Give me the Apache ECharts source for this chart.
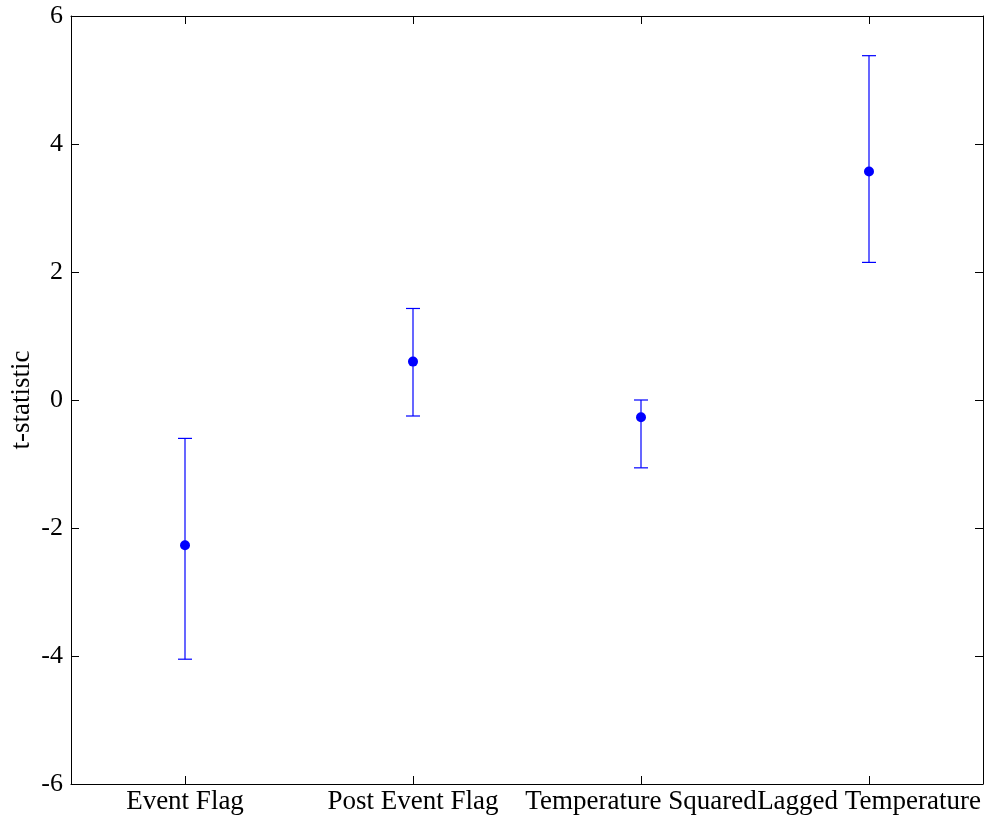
<!DOCTYPE html>
<html>
<head>
<meta charset="utf-8">
<script src="https://cdn.jsdelivr.net/npm/echarts@6/dist/echarts.min.js"></script>
<style>
  html, body { margin: 0; padding: 0; background: #fff; }
  #chart { width: 989px; height: 825px; }
</style>
</head>
<body>
<div id="chart"></div>
<script>
const categories = ['Event Flag', 'Post Event Flag', 'Temperature Squared', 'Lagged Temperature']
const tValues = [-2.27, 0.60, -0.27, 3.57]
const upperValues = [-0.60, 1.43, 0.00, 5.38]
const lowerValues = [-4.05, -0.25, -1.06, 2.15]

const font = 'Liberation Serif, Times New Roman, serif'
const blue = '#0000ff'

const chart = echarts.init(document.getElementById('chart'))

const axisCommon = {
  axisLine: { show: true, onZero: false, lineStyle: { color: '#000', width: 1 } },
  axisTick: { show: true, inside: true, length: 8, lineStyle: { color: '#000' } },
  splitLine: { show: false }
}

chart.setOption({
  animation: false,
  grid: { left: 71, right: 6, top: 16, bottom: 41, containLabel: false, outerBoundsMode: 'none' },
  xAxis: [
    {
      ...axisCommon,
      type: 'category',
      data: categories,
      position: 'bottom',
      axisTick: { ...axisCommon.axisTick, alignWithLabel: true },
      axisLabel: { color: '#000', fontFamily: font, fontSize: 27, margin: 4, interval: 0, hideOverlap: false }
    },
    {
      ...axisCommon,
      type: 'category',
      data: categories,
      position: 'top',
      axisTick: { ...axisCommon.axisTick, alignWithLabel: true },
      axisLabel: { show: false }
    }
  ],
  yAxis: [
    {
      ...axisCommon,
      type: 'value',
      min: -6,
      max: 6,
      interval: 2,
      position: 'left',
      name: 't-statistic',
      nameLocation: 'middle',
      nameGap: 36,
      nameMoveOverlap: false,
      nameTextStyle: { color: '#000', fontFamily: font, fontSize: 27 },
      axisLabel: { color: '#000', fontFamily: font, fontSize: 26, margin: 8 }
    },
    {
      ...axisCommon,
      type: 'value',
      min: -6,
      max: 6,
      interval: 2,
      position: 'right',
      axisLabel: { show: false }
    }
  ],
  series: [
    {
      type: 'custom',
      data: categories.map((c, i) => [i, lowerValues[i], upperValues[i]]),
      renderItem: (params, api) => {
        const lo = api.coord([api.value(0), api.value(1)])
        const hi = api.coord([api.value(0), api.value(2)])
        const w = 7
        const style = { stroke: blue, lineWidth: 1.2 }
        return {
          type: 'group',
          children: [
            { type: 'line', shape: { x1: hi[0], y1: hi[1], x2: lo[0], y2: lo[1] }, style },
            { type: 'line', shape: { x1: hi[0] - w, y1: hi[1], x2: hi[0] + w, y2: hi[1] }, style },
            { type: 'line', shape: { x1: lo[0] - w, y1: lo[1], x2: lo[0] + w, y2: lo[1] }, style }
          ]
        }
      },
      z: 2
    },
    {
      type: 'scatter',
      data: tValues,
      symbol: 'circle',
      symbolSize: 10,
      itemStyle: { color: blue, opacity: 1 },
      z: 3
    }
  ]
})
</script>
</body>
</html>
